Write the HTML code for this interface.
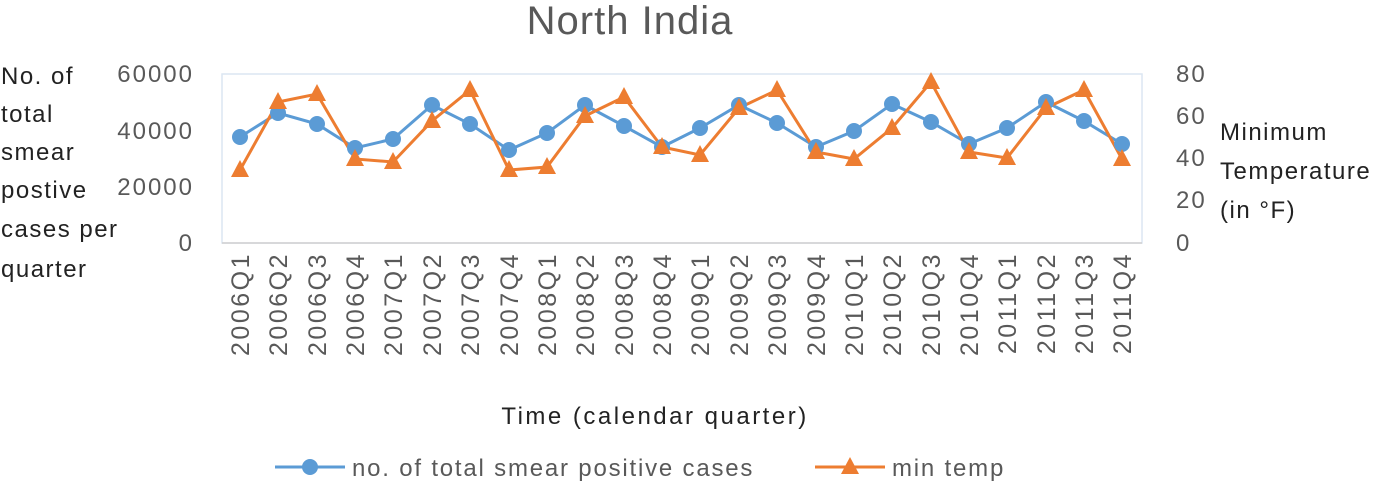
<!DOCTYPE html>
<html><head><style>
body{margin:0;background:#fff;}
svg text{font-family:"Liberation Sans",sans-serif;}
</style></head><body>
<svg width="1389" height="485" xmlns="http://www.w3.org/2000/svg">
<text x="630" y="34" font-size="40" fill="#595959" text-anchor="middle" letter-spacing="1">North India</text>
<rect x="222" y="74" width="920" height="169" fill="none" stroke="#dce6f2" stroke-width="1.5"/>
<line x1="222" y1="243" x2="1142" y2="243" stroke="#d0d0d0" stroke-width="1.5"/>
<g font-size="24" fill="#595959" text-anchor="end" letter-spacing="2">
<text x="194" y="82">60000</text><text x="194" y="139">40000</text><text x="194" y="195">20000</text><text x="194" y="251">0</text>
</g>
<g font-size="24" fill="#595959" text-anchor="start" letter-spacing="2">
<text x="1176" y="82">80</text><text x="1176" y="124">60</text><text x="1176" y="166">40</text><text x="1176" y="208">20</text><text x="1176" y="251">0</text>
</g>
<g font-size="24" fill="#222" letter-spacing="1.5">
<text x="1" y="84">No. of</text><text x="1" y="122">total</text><text x="1" y="160">smear</text><text x="1" y="198">postive</text><text x="1" y="237">cases per</text><text x="1" y="277">quarter</text>
<text x="1220" y="140">Minimum</text><text x="1220" y="179">Temperature</text><text x="1220" y="218">(in °F)</text>
<text x="655" y="424" text-anchor="middle" letter-spacing="2.5">Time (calendar quarter)</text>
</g>
<g id="xl" font-size="25" fill="#595959" letter-spacing="2.5"></g>
<polyline fill="none" stroke="#5b9bd5" stroke-width="3" points="240,137 278,113 317,124 355,148 393,139 432,105 470,124 509,150 547,133 585,105 624,126 662,147 700,128 739,105 777,123 816,147 854,131 892,104 931,122 969,144 1007,128 1046,102 1084,121 1122,144"/>
<polyline fill="none" stroke="#ed7d31" stroke-width="3" points="240,170 278,102 317,94 355,159 393,162 432,121 470,90 509,170 547,167 585,116 624,97 662,147 700,155 739,108 777,90 816,152 854,159 892,128 931,82 969,152 1007,158 1046,108 1084,90 1122,159"/>
<g id="bm" fill="#5b9bd5"></g>
<g id="om" fill="#ed7d31"></g>
<line x1="275" y1="467" x2="345" y2="467" stroke="#5b9bd5" stroke-width="3"/>
<circle cx="310" cy="467" r="8" fill="#5b9bd5"/>
<text x="352" y="476" font-size="24" fill="#595959" letter-spacing="1.8">no. of total smear positive cases</text>
<line x1="815" y1="467" x2="885" y2="467" stroke="#ed7d31" stroke-width="3"/>
<polygon points="850,457 859,474 841,474" fill="#ed7d31"/>
<text x="892" y="476" font-size="24" fill="#595959" letter-spacing="1.8">min temp</text>
</svg>
<script>
var ns="http://www.w3.org/2000/svg";
var bx=[240,278,317,355,393,432,470,509,547,585,624,662,700,739,777,816,854,892,931,969,1007,1046,1084,1122];
var by=[137,113,124,148,139,105,124,150,133,105,126,147,128,105,123,147,131,104,122,144,128,102,121,144];
var oy=[170,102,94,159,162,121,90,170,167,116,97,147,155,108,90,152,159,128,82,152,158,108,90,159];
var bm=document.getElementById("bm"),om=document.getElementById("om"),xl=document.getElementById("xl");
var n=0;
for(var y=2006;y<=2011;y++)for(var q=1;q<=4;q++){
 var x=bx[n];
 var c=document.createElementNS(ns,"circle");c.setAttribute("cx",x);c.setAttribute("cy",by[n]);c.setAttribute("r",8);bm.appendChild(c);
 var p=document.createElementNS(ns,"polygon");var yy=oy[n];p.setAttribute("points",x+","+(yy-10)+" "+(x+9)+","+(yy+7)+" "+(x-9)+","+(yy+7));om.appendChild(p);
 var t=document.createElementNS(ns,"text");t.setAttribute("transform","translate("+(x+9)+",252) rotate(-90)");t.setAttribute("text-anchor","end");t.textContent=y+"Q"+q;xl.appendChild(t);
 n++;
}
</script>
</body></html>
